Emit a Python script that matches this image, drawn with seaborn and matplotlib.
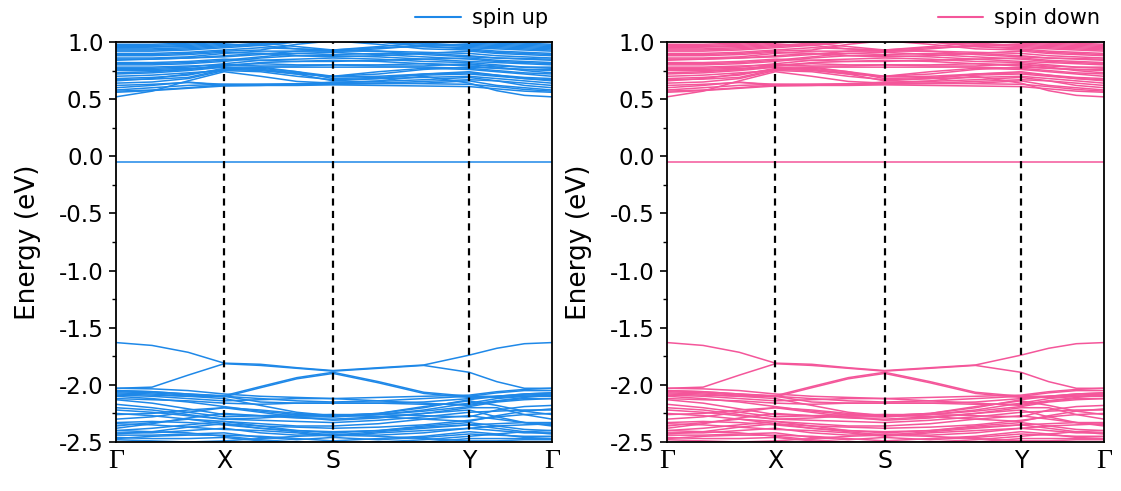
import numpy as np
import pandas as pd
import matplotlib
matplotlib.use("Agg")
import matplotlib.pyplot as plt
from matplotlib.lines import Line2D
from matplotlib.ticker import MultipleLocator
import seaborn as sns

# ---------------- data ----------------
kpath_labels = ["Γ", "X", "S", "Y", "Γ"]
kpath_nodes = [0.0, 0.248, 0.498, 0.810, 1.0]
series_names = ["spin up", "spin down"]
fermi_flat = [-0.05] * 13

# valence bands (13 k-samples: Γ, 1/3, 2/3, X, 1/3, 2/3, S, 1/3, 2/3, Y, 1/3, 2/3, Γ)
v_a = [-1.63, -1.655, -1.715, -1.81, -1.82, -1.85, -1.875, -1.85, -1.826, -1.74, -1.68, -1.64, -1.63]
v_b = [-2.03, -2.02, -1.915, -1.815, -1.83, -1.855, -1.88, -1.855, -1.83, -1.89, -1.972, -2.03, -2.03]
v_c = [-2.05, -2.06, -2.08, -2.095, -2.015, -1.937, -1.89, -1.972, -2.065, -2.10, -2.10, -2.09, -2.08]
v_c2 = [-2.06, -2.07, -2.09, -2.105, -2.025, -1.947, -1.90, -1.982, -2.075, -2.11, -2.11, -2.10, -2.09]
v_e = [-2.08, -2.09, -2.10, -2.10, -2.15, -2.16, -2.16, -2.16, -2.15, -2.12, -2.10, -2.08, -2.07]
d01 = [-2.05, -2.06, -2.08, -2.10, -2.12, -2.14, -2.15, -2.14, -2.12, -2.10, -2.07, -2.05, -2.05]
d02 = [-2.07, -2.08, -2.10, -2.12, -2.18, -2.24, -2.27, -2.25, -2.20, -2.13, -2.10, -2.08, -2.07]
d03 = [-2.10, -2.12, -2.15, -2.19, -2.23, -2.26, -2.28, -2.26, -2.22, -2.16, -2.12, -2.10, -2.10]
d04 = [-2.13, -2.16, -2.21, -2.26, -2.27, -2.28, -2.28, -2.26, -2.23, -2.19, -2.15, -2.13, -2.12]
d05 = [-2.17, -2.20, -2.24, -2.28, -2.27, -2.26, -2.26, -2.26, -2.27, -2.28, -2.22, -2.19, -2.18]
d06 = [-2.20, -2.22, -2.26, -2.30, -2.29, -2.27, -2.26, -2.28, -2.30, -2.32, -2.27, -2.23, -2.21]
d07 = [-2.38, -2.34, -2.29, -2.25, -2.27, -2.29, -2.30, -2.28, -2.25, -2.22, -2.28, -2.33, -2.36]
d08 = [-2.36, -2.33, -2.30, -2.32, -2.34, -2.36, -2.36, -2.34, -2.30, -2.27, -2.30, -2.33, -2.35]
d09 = [-2.40, -2.38, -2.35, -2.32, -2.36, -2.40, -2.42, -2.40, -2.36, -2.33, -2.36, -2.39, -2.40]
d10 = [-2.42, -2.42, -2.40, -2.38, -2.42, -2.44, -2.43, -2.44, -2.42, -2.38, -2.40, -2.42, -2.42]
d11 = [-2.44, -2.44, -2.43, -2.42, -2.46, -2.48, -2.46, -2.48, -2.46, -2.43, -2.44, -2.45, -2.45]
d12 = [-2.46, -2.47, -2.47, -2.46, -2.49, -2.52, -2.50, -2.52, -2.50, -2.47, -2.47, -2.47, -2.47]
d13 = [-2.30, -2.28, -2.24, -2.20, -2.24, -2.28, -2.31, -2.29, -2.25, -2.20, -2.20, -2.26, -2.30]
d14 = [-2.03, -2.035, -2.05, -2.08, -2.10, -2.11, -2.12, -2.11, -2.10, -2.09, -2.06, -2.04, -2.03]
d15 = [-2.26, -2.25, -2.22, -2.20, -2.22, -2.25, -2.27, -2.25, -2.19, -2.14, -2.18, -2.23, -2.26]
d16 = [-2.48, -2.49, -2.50, -2.49, -2.47, -2.45, -2.44, -2.45, -2.47, -2.49, -2.49, -2.48, -2.48]
d17 = [-2.33, -2.32, -2.33, -2.35, -2.38, -2.40, -2.41, -2.40, -2.37, -2.35, -2.34, -2.33, -2.33]
d18 = [-2.12, -2.13, -2.14, -2.16, -2.17, -2.16, -2.16, -2.16, -2.17, -2.17, -2.14, -2.12, -2.12]
d19 = [-2.22, -2.24, -2.27, -2.30, -2.31, -2.32, -2.33, -2.31, -2.28, -2.24, -2.23, -2.22, -2.22]
d20 = [-2.34, -2.35, -2.37, -2.39, -2.40, -2.42, -2.45, -2.42, -2.40, -2.38, -2.36, -2.35, -2.34]
d21 = [-2.09, -2.10, -2.12, -2.14, -2.13, -2.12, -2.12, -2.14, -2.16, -2.18, -2.14, -2.11, -2.09]
d22 = [-2.25, -2.27, -2.30, -2.34, -2.36, -2.37, -2.38, -2.37, -2.35, -2.31, -2.28, -2.26, -2.25]
d23 = [-2.43, -2.41, -2.37, -2.34, -2.38, -2.41, -2.44, -2.41, -2.38, -2.35, -2.38, -2.41, -2.43]
d24 = [-2.47, -2.45, -2.44, -2.44, -2.45, -2.47, -2.49, -2.47, -2.45, -2.41, -2.43, -2.46, -2.47]
d25 = [-2.40, -2.41, -2.42, -2.45, -2.48, -2.50, -2.51, -2.50, -2.48, -2.45, -2.43, -2.41, -2.40]

# conduction bands
c01 = [0.56, 0.575, 0.595, 0.615, 0.62, 0.62, 0.625, 0.62, 0.615, 0.61, 0.59, 0.57, 0.56]
c02 = [0.52, 0.57, 0.66, 0.74, 0.70, 0.655, 0.64, 0.66, 0.70, 0.64, 0.574, 0.533, 0.52]
c03 = [0.58, 0.60, 0.62, 0.63, 0.63, 0.63, 0.63, 0.635, 0.64, 0.66, 0.62, 0.60, 0.58]
c04 = [0.64, 0.65, 0.68, 0.75, 0.74, 0.70, 0.67, 0.68, 0.69, 0.70, 0.68, 0.66, 0.64]
c05 = [0.66, 0.68, 0.72, 0.76, 0.75, 0.72, 0.66, 0.68, 0.72, 0.74, 0.71, 0.68, 0.66]
c06 = [0.70, 0.71, 0.73, 0.75, 0.78, 0.74, 0.70, 0.74, 0.77, 0.76, 0.74, 0.72, 0.70]
c07 = [0.72, 0.73, 0.75, 0.78, 0.78, 0.78, 0.78, 0.78, 0.78, 0.77, 0.75, 0.73, 0.72]
c08 = [0.75, 0.75, 0.76, 0.79, 0.82, 0.83, 0.84, 0.83, 0.81, 0.79, 0.77, 0.76, 0.75]
c09 = [0.78, 0.78, 0.79, 0.80, 0.81, 0.80, 0.80, 0.80, 0.81, 0.80, 0.79, 0.78, 0.78]
c10 = [0.80, 0.80, 0.81, 0.83, 0.86, 0.88, 0.88, 0.87, 0.85, 0.83, 0.82, 0.81, 0.80]
c11 = [0.82, 0.82, 0.83, 0.85, 0.84, 0.83, 0.83, 0.84, 0.85, 0.86, 0.84, 0.83, 0.82]
c12 = [0.84, 0.85, 0.86, 0.88, 0.90, 0.90, 0.89, 0.90, 0.90, 0.88, 0.86, 0.85, 0.84]
c13 = [0.86, 0.86, 0.87, 0.90, 0.92, 0.92, 0.92, 0.92, 0.91, 0.90, 0.88, 0.87, 0.86]
c14 = [0.88, 0.88, 0.89, 0.91, 0.90, 0.88, 0.87, 0.88, 0.90, 0.92, 0.90, 0.89, 0.88]
c15 = [0.90, 0.90, 0.91, 0.93, 0.95, 0.94, 0.93, 0.95, 0.96, 0.94, 0.92, 0.91, 0.90]
c16 = [0.92, 0.92, 0.93, 0.95, 0.97, 1.00, 1.02, 1.00, 0.96, 0.95, 0.94, 0.93, 0.92]
c17 = [0.94, 0.94, 0.95, 0.97, 0.99, 0.96, 0.93, 0.96, 0.99, 0.97, 0.96, 0.95, 0.94]
c18 = [0.96, 0.96, 0.97, 0.99, 1.01, 1.02, 1.03, 1.02, 1.01, 0.99, 0.98, 0.97, 0.96]
c19 = [0.98, 0.98, 0.99, 1.01, 1.03, 1.05, 1.06, 1.05, 1.03, 1.01, 1.00, 0.99, 0.98]
c20 = [0.76, 0.76, 0.77, 0.78, 0.76, 0.72, 0.70, 0.72, 0.76, 0.78, 0.77, 0.76, 0.76]
c21 = [0.62, 0.63, 0.645, 0.63, 0.625, 0.625, 0.635, 0.64, 0.655, 0.67, 0.66, 0.64, 0.62]
c22 = [0.67, 0.675, 0.69, 0.76, 0.77, 0.74, 0.68, 0.69, 0.71, 0.72, 0.70, 0.68, 0.67]
c23 = [0.57, 0.58, 0.60, 0.625, 0.63, 0.635, 0.64, 0.64, 0.635, 0.63, 0.61, 0.585, 0.57]
c24 = [0.60, 0.62, 0.65, 0.62, 0.62, 0.63, 0.65, 0.655, 0.67, 0.69, 0.66, 0.62, 0.60]
c25 = [0.68, 0.69, 0.71, 0.77, 0.76, 0.73, 0.695, 0.70, 0.72, 0.73, 0.71, 0.69, 0.68]
c26 = [0.73, 0.74, 0.76, 0.80, 0.79, 0.79, 0.80, 0.79, 0.79, 0.81, 0.78, 0.75, 0.73]
c27 = [0.77, 0.77, 0.78, 0.81, 0.84, 0.85, 0.86, 0.85, 0.83, 0.82, 0.80, 0.78, 0.77]
c28 = [0.81, 0.81, 0.82, 0.84, 0.87, 0.90, 0.91, 0.89, 0.87, 0.85, 0.83, 0.82, 0.81]
c29 = [0.85, 0.85, 0.86, 0.87, 0.89, 0.92, 0.93, 0.92, 0.89, 0.87, 0.86, 0.855, 0.85]
c30 = [0.89, 0.89, 0.90, 0.92, 0.93, 0.98, 1.01, 0.98, 0.94, 0.93, 0.91, 0.90, 0.89]
c31 = [0.93, 0.93, 0.94, 0.96, 0.98, 1.00, 1.01, 1.00, 0.98, 0.96, 0.95, 0.94, 0.93]
c32 = [0.95, 0.955, 0.96, 0.98, 0.97, 0.94, 0.92, 0.94, 0.97, 0.98, 0.97, 0.96, 0.95]
c33 = [0.97, 0.97, 0.98, 1.00, 1.02, 1.03, 1.04, 1.03, 1.02, 1.00, 0.99, 0.98, 0.97]

bands = [fermi_flat, v_a, v_b, v_c, v_c2, v_e, d01, d02, d03, d04, d05, d06, d07, d08,
         d09, d10, d11, d12, d13, d14, d15, d16, d17, d18, d19, d20, d21, d22, d23,
         d24, d25,
         c01, c02, c03, c04, c05, c06, c07, c08, c09, c10, c11, c12, c13, c14, c15,
         c16, c17, c18, c19, c20, c21, c22, c23, c24, c25, c26, c27, c28, c29, c30,
         c31, c32, c33]

# k-sample positions: each path segment split in thirds
kgrid = []
for i in range(4):
    a, b = kpath_nodes[i], kpath_nodes[i + 1]
    kgrid += [a, a + (b - a) / 3, a + 2 * (b - a) / 3]
kgrid.append(kpath_nodes[-1])

rows = []
for bi, band in enumerate(bands):
    for k, e in zip(kgrid, band):
        rows.append({"band": bi, "k": k, "E": e})
df = pd.DataFrame(rows)

# ---------------- style ----------------
sns.set_style("ticks")
plt.rcParams["font.family"] = ["DejaVu Sans"]
plt.rcParams["axes.linewidth"] = 1.3
for key in ["text.color", "axes.labelcolor", "xtick.color", "ytick.color",
            "axes.edgecolor"]:
    plt.rcParams[key] = "black"

colors = ["#1E88E8", "#F4569A"]

fig = plt.figure(figsize=(11.21, 4.91), dpi=100)
ax_pos = [[116 / 1121, 1 - 442 / 491, 436 / 1121, 400 / 491],
          [667 / 1121, 1 - 442 / 491, 437 / 1121, 400 / 491]]

for p in range(2):
    ax = fig.add_axes(ax_pos[p])
    sns.lineplot(data=df, x="k", y="E", units="band", estimator=None,
                 color=colors[p], lw=1.1, ax=ax, legend=False, sort=False)
    for xn in kpath_nodes[1:-1]:
        ax.axvline(xn, color="black", ls=(0, (3.2, 2.4)), lw=1.6, zorder=5)
    ax.set_xlim(0, 1)
    ax.set_ylim(-2.5, 1.0)
    ax.yaxis.set_major_locator(MultipleLocator(0.5))
    ax.yaxis.set_minor_locator(MultipleLocator(0.25))
    ax.set_yticklabels([f"{v:.1f}" for v in ax.get_yticks()])
    ax.tick_params(axis="y", which="major", direction="out", length=5, width=1.2,
                   labelsize=16.5, pad=4, colors="black")
    ax.tick_params(axis="y", which="minor", direction="out", length=3, width=1.0,
                   colors="black")
    ax.set_xticks(kpath_nodes)
    ax.set_xticklabels(kpath_labels)
    ax.tick_params(axis="x", length=0, labelsize=17, pad=5, colors="black")
    for lab in ax.get_xticklabels():
        if lab.get_text() == "Γ":
            lab.set_fontfamily(["Liberation Serif", "DejaVu Serif"])
            lab.set_fontsize(20)
    ax.set_xlabel("")
    ax.set_ylabel("Energy (eV)", fontsize=19, color="black")
    ax.yaxis.set_label_coords(-0.172, 0.5)
    for s in ax.spines.values():
        s.set_visible(True)
        s.set_color("black")
    handle = Line2D([0], [0], color=colors[p], lw=1.5)
    ax.legend([handle], [series_names[p]], loc="lower right",
              bbox_to_anchor=(1.0, 1.025), frameon=False, fontsize=15,
              handlelength=2.2, handletextpad=0.5, borderaxespad=0.05,
              borderpad=0.15, labelcolor="black")

fig.savefig("out.png", dpi=100)
